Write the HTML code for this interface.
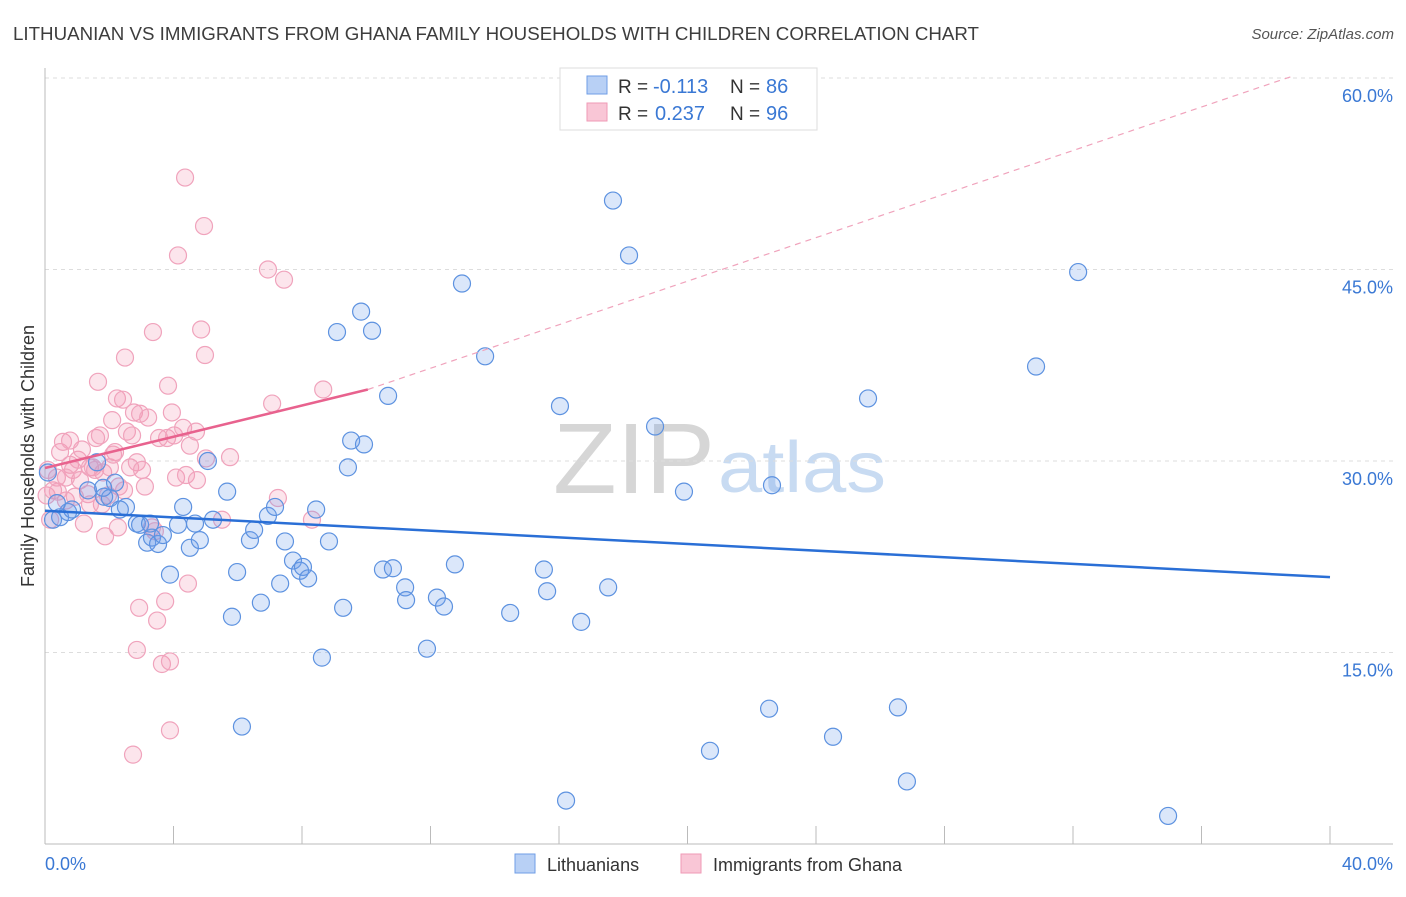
<!DOCTYPE html>
<html><head><meta charset="utf-8"><style>
body{margin:0;background:#fff;font-family:"Liberation Sans",sans-serif}
svg text{font-family:"Liberation Sans",sans-serif}
</style></head><body>
<svg id="c" width="1406" height="892">
<text x="13" y="40" font-size="18" fill="#3d3d3d" textLength="966" lengthAdjust="spacingAndGlyphs">LITHUANIAN VS IMMIGRANTS FROM GHANA FAMILY HOUSEHOLDS WITH CHILDREN CORRELATION CHART</text>
<text x="1394" y="39" font-size="15" fill="#555" text-anchor="end" font-style="italic">Source: ZipAtlas.com</text>
<text x="553" y="493" font-size="100" fill="#d6d6d6" font-family="Liberation Serif" textLength="162" lengthAdjust="spacingAndGlyphs">ZIP</text>
<text x="718" y="492" font-size="72" fill="#c8dbf2" textLength="168" lengthAdjust="spacingAndGlyphs">atlas</text>
<g id="grid"></g><g id="marks"></g>
<text transform="translate(34,456) rotate(-90)" font-size="18" fill="#333" text-anchor="middle">Family Households with Children</text>
<g>
<rect x="560" y="68" width="257" height="62" fill="#fff" stroke="#ddd"/>
<rect x="587" y="76" width="20" height="18" fill="#b8d0f5" stroke="#6f9ee6"/>
<text x="618" y="93" font-size="19" fill="#333">R =</text>
<text x="653" y="93" font-size="20" fill="#3a78d4">-0.113</text>
<text x="730" y="93" font-size="19" fill="#333">N =</text>
<text x="766" y="93" font-size="20" fill="#3a78d4">86</text>
<rect x="587" y="103" width="20" height="18" fill="#f9c6d6" stroke="#ef9ab6"/>
<text x="618" y="120" font-size="19" fill="#333">R =</text>
<text x="655" y="120" font-size="20" fill="#3a78d4">0.237</text>
<text x="730" y="120" font-size="19" fill="#333">N =</text>
<text x="766" y="120" font-size="20" fill="#3a78d4">96</text>
</g>
<g>
<rect x="515" y="854" width="20" height="19" fill="#b8d0f5" stroke="#6f9ee6"/>
<text x="547" y="871" font-size="18" fill="#333">Lithuanians</text>
<rect x="681" y="854" width="20" height="19" fill="#f9c6d6" stroke="#ef9ab6"/>
<text x="713" y="871" font-size="18" fill="#333">Immigrants from Ghana</text>
</g>
</svg>
<script>
const yTicks=[15,30,45,60];
const yTickLabels=["15.0%","30.0%","45.0%","60.0%"];
const xTicks=[0,4,8,12,16,20,24,28,32,36,40];
const blueX=[0.25,0.47,0.72,0.84,1.34,1.62,1.84,2.18,2.02,2.52,2.86,2.96,3.18,3.33,3.52,3.67,3.89,4.14,4.30,4.51,4.67,4.82,5.07,5.23,5.67,5.82,5.98,6.13,6.38,6.51,6.72,6.94,7.16,7.32,7.47,7.72,7.94,8.03,8.19,8.44,8.62,8.84,9.09,9.28,9.43,9.53,9.84,9.93,10.18,10.52,10.68,10.83,11.21,11.24,11.89,12.20,12.42,12.76,12.98,13.70,14.48,15.53,15.63,16.03,16.22,16.69,17.53,17.68,18.18,18.99,19.89,20.70,22.54,22.63,24.53,25.62,26.55,26.83,30.85,32.16,34.96,0.37,2.33,1.81,0.09,3.27];
const blueY=[25.4,25.6,26.0,26.2,27.7,29.9,27.2,28.3,27.1,26.4,25.1,25.0,23.6,24.0,23.5,24.2,21.1,25.0,26.4,23.2,25.1,23.8,30.0,25.4,27.6,17.8,21.3,9.2,23.8,24.6,18.9,25.7,26.4,20.4,23.7,22.2,21.4,21.7,20.8,26.2,14.6,23.7,40.1,18.5,29.5,31.6,41.7,31.3,40.2,21.5,35.1,21.6,20.1,19.1,15.3,19.3,18.6,21.9,43.9,38.2,18.1,21.5,19.8,34.3,3.4,17.4,20.1,50.4,46.1,32.7,27.6,7.3,10.6,28.1,8.4,34.9,10.7,4.9,37.4,44.8,2.2,26.7,26.2,27.9,29.1,25.1];
const pinkX=[0.05,0.09,0.16,0.25,0.37,0.47,0.56,0.65,0.78,0.87,0.93,1.03,1.15,1.21,1.34,1.40,1.49,1.59,1.65,1.71,1.81,1.87,1.96,2.02,2.09,2.18,2.24,2.30,2.43,2.49,2.55,2.65,2.71,2.77,2.86,2.93,2.96,3.11,3.21,3.33,3.42,3.49,3.36,3.55,3.64,3.74,3.80,3.83,3.89,3.95,4.02,4.08,4.14,4.30,4.36,4.39,4.45,4.70,4.73,4.86,4.95,4.98,5.01,5.51,5.76,6.94,7.07,7.25,7.44,8.31,8.66,2.74,3.89,2.86,0.40,1.09,1.56,2.12,0.78,1.77,2.46,1.40,2.27,0.65,3.02,4.51];
const pinkY=[27.3,29.3,25.4,27.7,28.7,30.7,31.5,26.9,29.7,29.3,27.2,30.1,30.9,25.1,27.4,29.5,29.5,31.8,36.2,32.0,29.1,24.1,27.3,29.5,33.2,30.7,34.9,28.0,34.8,38.1,32.3,29.5,32.0,33.8,29.9,18.5,33.7,28.0,33.4,24.8,24.5,17.5,40.1,31.8,14.1,19.0,31.8,35.9,8.9,33.8,32.0,28.7,46.1,32.6,52.2,28.9,20.4,32.3,28.5,40.3,48.4,38.3,30.2,25.4,30.3,45.0,34.5,27.1,44.2,25.4,35.6,7.0,14.3,15.2,27.6,28.5,29.3,30.5,31.6,26.6,27.7,26.6,24.8,28.7,29.3,31.2];
const blueTrend=[26.1,20.9];
const pinkTrend=[29.45,35.6,10.05];
const pinkDashEnd=[38.9,60.2];
const NS='http://www.w3.org/2000/svg';
const X=v=>45+v*32.125, Y=v=>844-v*12.767;
function mk(t,a,p){const e=document.createElementNS(NS,t);for(const k in a)e.setAttribute(k,a[k]);p.appendChild(e);return e;}
const g=document.getElementById('grid'), m=document.getElementById('marks');
yTicks.forEach((t,i)=>{
 const l=mk('line',{x1:45,x2:1393,y1:Y(t),y2:Y(t),stroke:'#ddd','stroke-dasharray':'4,4'},g);
 
 
 const tx=mk('text',{x:1393,y:Y(t)+24,'font-size':18,fill:'#3a78d4','text-anchor':'end'},g);
 tx.textContent=yTickLabels[i];
 
 
});
const ya=mk('line',{x1:45,x2:45,y1:68,y2:844,stroke:'#bbb'},g);


const xa=mk('line',{x1:45,x2:1393,y1:844,y2:844,stroke:'#bbb'},g);


xTicks.forEach(t=>{const l=mk('line',{x1:X(t),x2:X(t),y1:826,y2:844,stroke:'#bbb'},g);
 
 });
const xl0=mk('text',{x:45,y:870,'font-size':18,fill:'#3a78d4'},g);xl0.textContent='0.0%';


const xl1=mk('text',{x:1393,y:870,'font-size':18,fill:'#3a78d4','text-anchor':'end'},g);xl1.textContent='40.0%';


pinkX.forEach((x,i)=>{const c=mk('circle',{cx:X(x),cy:Y(pinkY[i]),r:8.5,fill:'rgba(244,150,180,0.25)',stroke:'#f0a3bc','stroke-width':1.2},m);
 
 });
blueX.forEach((x,i)=>{const c=mk('circle',{cx:X(x),cy:Y(blueY[i]),r:8.5,fill:'rgba(110,160,235,0.25)',stroke:'#5d92e0','stroke-width':1.2},m);
 
 });
const bl=mk('line',{x1:X(0),y1:Y(blueTrend[0]),x2:X(40),y2:Y(blueTrend[1]),stroke:'#2a6fd6','stroke-width':2.5},m);


const pd=mk('line',{x1:X(pinkTrend[2]),y1:Y(pinkTrend[1]),x2:X(pinkDashEnd[0]),y2:Y(pinkDashEnd[1]),stroke:'#f0a3bc','stroke-width':1.2,'stroke-dasharray':'6,5'},m);


const pl=mk('line',{x1:X(0),y1:Y(pinkTrend[0]),x2:X(pinkTrend[2]),y2:Y(pinkTrend[1]),stroke:'#e8628e','stroke-width':2.5},m);


</script>
</body></html>
